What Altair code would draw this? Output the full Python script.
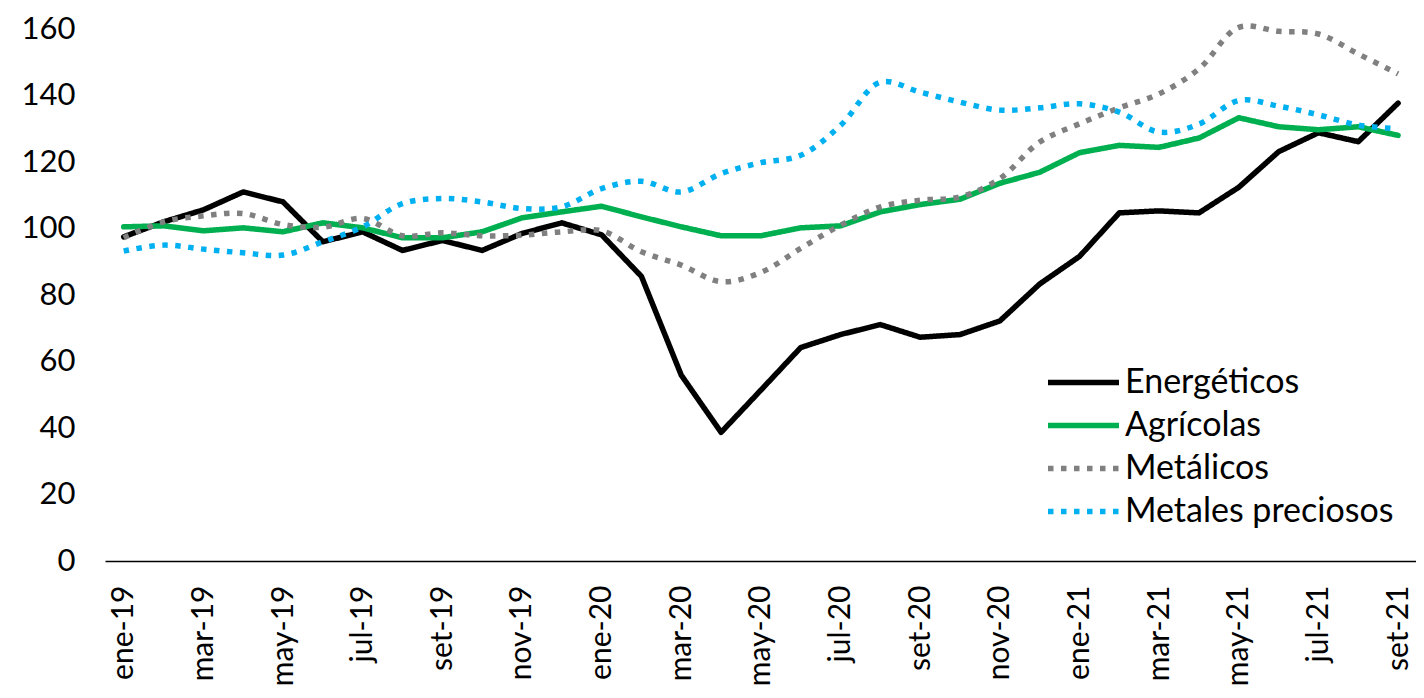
import altair as alt
import pandas as pd

months = [
    "ene-19", "feb-19", "mar-19", "abr-19", "may-19", "jun-19", "jul-19", "ago-19", "set-19", "oct-19", "nov-19", "dic-19",
    "ene-20", "feb-20", "mar-20", "abr-20", "may-20", "jun-20", "jul-20", "ago-20", "set-20", "oct-20", "nov-20", "dic-20",
    "ene-21", "feb-21", "mar-21", "abr-21", "may-21", "jun-21", "jul-21", "ago-21", "set-21",
]

energeticos = [97.5, 102, 105.6, 111, 108, 96, 99, 93.4, 96.4, 93.4, 98.5, 101.7, 98.1, 85.6, 55.9, 38.7, 51.4,
               64.2, 68.1, 71.1, 67.3, 68.1, 72.2, 83.3, 91.6, 104.7, 105.3, 104.7, 112.4, 123.1, 128.8, 126.1, 137.7]
agricolas = [100.5, 100.8, 99.3, 100.2, 99, 101.7, 100.2, 97.2, 97.2, 99, 103.2, 105, 106.7, 103.5, 100.5, 97.8, 97.8,
             100.2, 100.8, 105, 107.2, 108.8, 113.6, 116.9, 122.8, 125, 124.4, 127.2, 133.3, 130.6, 129.7, 130.6, 128]
metalicos = [97.2, 102, 103.8, 104.5, 101.2, 100.4, 103, 97.8, 98.7, 97.8, 98, 99, 99.3, 93, 89, 84, 86.8,
             94, 101, 106.5, 108.5, 109.5, 115, 126, 131.5, 136.3, 140.5, 148, 160.5, 159.3, 158.5, 152.5, 146.5]
metales_preciosos = [93.2, 95, 93.8, 92.7, 92, 96, 100.5, 107.5, 109, 108, 106, 106.5, 112, 114.2, 111, 116.5, 119.8,
                     122, 131, 144, 141, 138, 135.6, 136.3, 137.5, 135, 129, 131.4, 138.5, 136.8, 134.2, 131.1, 130]

series_names = ["Energéticos", "Agrícolas", "Metálicos", "Metales preciosos"]
series_colors = ["#000000", "#00B050", "#808080", "#00B0F0"]
series_values = [energeticos, agricolas, metalicos, metales_preciosos]
solid_series = ["Energéticos", "Agrícolas"]

rows = []
for order, (name, vals) in enumerate(zip(series_names, series_values)):
    for i, v in enumerate(vals):
        rows.append({"i": i, "mes": months[i], "serie": name, "orden": order, "valor": v})
df = pd.DataFrame(rows)

labels_js = "[" + ",".join("'" + m + "'" for m in months) + "]"

FONT = "Lato"

x_enc = alt.X(
    "i:Q",
    scale=alt.Scale(domain=[-0.47, 32.45], nice=False, zero=False),
    axis=alt.Axis(
        values=list(range(0, len(months), 2)),
        labelExpr=labels_js + "[datum.value]",
        labelAngle=270,
        labelPadding=24,
        ticks=False,
        grid=False,
        domain=True,
        domainColor="#000000",
        domainWidth=1.5,
        title=None,
        labelFont=FONT,
        labelFontSize=30,
        labelColor="#000000",
    ),
)
y_enc = alt.Y(
    "valor:Q",
    scale=alt.Scale(domain=[0, 160], nice=False),
    axis=alt.Axis(
        values=[0, 20, 40, 60, 80, 100, 120, 140, 160],
        ticks=False,
        grid=False,
        domain=False,
        title=None,
        labelPadding=30,
        labelFont=FONT,
        labelFontSize=31,
        labelColor="#000000",
    ),
)


def make_legend():
    return alt.Legend(
        title=None,
        orient="none",
        legendX=940,
        legendY=332,
        symbolType="stroke",
        symbolSize=5041,
        symbolStrokeWidth=5.5,
        labelFont=FONT,
        labelFontSize=34,
        labelColor="#000000",
        labelOffset=3,
        clipHeight=43,
        rowPadding=0,
        padding=0,
        labelLimit=400,
    )


color_enc = alt.Color(
    "serie:N",
    scale=alt.Scale(domain=series_names, range=series_colors),
    legend=make_legend(),
)
dash_enc = alt.StrokeDash(
    "serie:N",
    scale=alt.Scale(domain=series_names, range=[[1, 0], [1, 0], [5.5, 7.5], [5.5, 7.5]]),
    legend=make_legend(),
)

base = alt.Chart(df).encode(x=x_enc, y=y_enc, color=color_enc, strokeDash=dash_enc, order="i:Q", detail="serie:N")

solid = base.mark_line(strokeWidth=5.5, strokeCap="round", strokeJoin="round").transform_filter(
    alt.FieldOneOfPredicate(field="serie", oneOf=solid_series)
)
dotted = base.mark_line(strokeWidth=5.5, strokeCap="butt", interpolate="catmull-rom").transform_filter(
    {"not": alt.FieldOneOfPredicate(field="serie", oneOf=solid_series)}
)

chart = alt.layer(solid, dotted).properties(
    width=1311,
    height=532,
    autosize=alt.AutoSizeParams(type="none"),
    padding={"left": 97, "top": 21, "right": 0, "bottom": 128},
    background="#ffffff",
).configure_view(stroke=None)

chart.save("out.html", embed_options={"renderer": "svg", "actions": False})
